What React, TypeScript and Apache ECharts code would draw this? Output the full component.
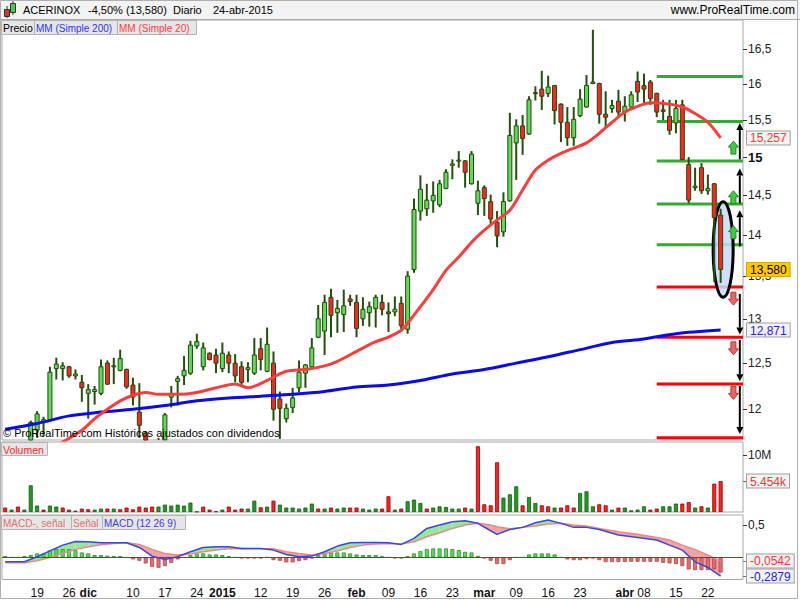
import React, { useEffect, useRef } from "react";
import * as echarts from "echarts";

// ---------- trading days ----------
const daysNov2014 = [12, 13, 14, 17, 18, 19, 20, 21, 24, 25, 26, 27, 28];
const daysDec2014 = [1, 2, 3, 4, 5, 8, 9, 10, 11, 12, 15, 16, 17, 18, 19, 22, 23, 24, 29, 30, 31];
const daysJan2015 = [2, 5, 6, 7, 8, 9, 12, 13, 14, 15, 16, 19, 20, 21, 22, 23, 26, 27, 28, 29, 30];
const daysFeb2015 = [2, 3, 4, 5, 6, 9, 10, 11, 12, 13, 16, 17, 18, 19, 20, 23, 24, 25, 26, 27];
const daysMar2015 = [2, 3, 4, 5, 6, 9, 10, 11, 12, 13, 16, 17, 18, 19, 20, 23, 24, 25, 26, 27, 30, 31];
const daysApr2015 = [1, 2, 7, 8, 9, 10, 13, 14, 15, 16, 17, 20, 21, 22, 23, 24];

const tickDates = ["2014-11-19", "2014-11-26", "2014-12-01", "2014-12-10", "2014-12-17", "2014-12-24", "2015-01-02", "2015-01-12", "2015-01-19", "2015-01-26", "2015-02-02", "2015-02-09", "2015-02-16", "2015-02-23", "2015-03-02", "2015-03-09", "2015-03-16", "2015-03-23", "2015-04-01", "2015-04-08", "2015-04-15", "2015-04-22"];
const tickTexts = ["19", "26", "dic", "10", "17", "24", "2015", "12", "19", "26", "feb", "09", "16", "23", "mar", "09", "16", "23", "abr", "08", "15", "22"];
const boldTicks = ["dic", "2015", "feb", "mar", "abr"];

// ---------- prices ----------
const opens = [11.55, 11.45, 11.52, 11.42, 11.50, 11.78, 11.86, 11.89, 12.44, 12.44, 12.46, 12.36, 12.29, 12.17, 12.19, 12.17, 12.50, 12.46, 12.42, 12.43, 12.26, 11.97, 11.75, 11.62, 11.55, 11.68, 12.13, 12.30, 12.36, 12.39, 12.69, 12.46, 12.61, 12.59, 12.44, 12.59, 12.50, 12.46, 12.43, 12.39, 12.66, 12.41, 12.50, 12.11, 11.90, 12.02, 12.23, 12.39, 12.46, 12.79, 12.86, 13.25, 13.07, 13.05, 13.23, 13.19, 13.00, 13.07, 13.12, 13.19, 13.08, 13.08, 13.18, 12.88, 13.58, 14.30, 14.33, 14.43, 14.38, 14.59, 14.89, 14.95, 14.95, 14.65, 14.40, 14.60, 14.42, 14.16, 14.04, 14.43, 15.19, 15.42, 15.31, 15.88, 15.93, 15.87, 15.98, 15.72, 15.47, 15.26, 15.56, 15.68, 16.01, 16.01, 15.58, 15.66, 15.76, 15.61, 15.68, 16.04, 15.98, 16.03, 15.87, 15.64, 15.55, 15.46, 15.71, 14.90, 14.60, 14.86, 14.56, 14.65, 14.25];
const closes = [11.45, 11.52, 11.42, 11.50, 11.86, 11.95, 11.89, 12.40, 12.49, 12.47, 12.36, 12.38, 12.23, 12.21, 12.21, 12.46, 12.27, 12.47, 12.55, 12.24, 12.13, 11.83, 11.58, 11.55, 11.66, 11.94, 12.17, 12.33, 12.42, 12.70, 12.74, 12.67, 12.54, 12.50, 12.61, 12.50, 12.36, 12.29, 12.45, 12.59, 12.54, 12.71, 12.00, 12.01, 12.01, 12.12, 12.40, 12.48, 12.67, 13.00, 13.19, 13.04, 13.12, 13.15, 13.20, 12.89, 13.11, 13.14, 13.25, 13.11, 13.06, 13.11, 12.92, 13.50, 14.32, 14.58, 14.44, 14.50, 14.65, 14.80, 14.91, 14.96, 14.80, 15.04, 14.56, 14.46, 14.20, 13.99, 14.42, 15.29, 15.42, 15.25, 15.78, 15.87, 15.83, 15.96, 15.63, 15.47, 15.26, 15.51, 15.79, 15.98, 16.03, 15.58, 15.54, 15.70, 15.61, 15.69, 15.85, 15.89, 15.93, 15.80, 15.61, 15.62, 15.36, 15.66, 14.97, 14.44, 14.62, 14.56, 14.59, 14.22, 13.58];
const lows = [11.40, 11.40, 11.38, 11.38, 11.48, 11.70, 11.72, 11.87, 12.32, 12.31, 12.34, 12.32, 12.08, 11.90, 12.05, 12.15, 12.26, 12.27, 12.41, 12.22, 12.04, 11.70, 11.50, 11.45, 11.50, 11.62, 12.02, 12.04, 12.26, 12.37, 12.66, 12.42, 12.53, 12.39, 12.40, 12.39, 12.29, 12.26, 12.29, 12.37, 12.42, 12.40, 11.88, 11.69, 11.86, 11.96, 12.18, 12.23, 12.44, 12.78, 12.59, 12.79, 12.84, 12.85, 13.15, 12.79, 12.92, 12.91, 12.90, 13.04, 12.85, 13.03, 12.85, 12.83, 13.54, 14.18, 14.24, 14.28, 14.35, 14.58, 14.71, 14.86, 14.60, 14.64, 14.25, 14.24, 14.12, 13.85, 13.98, 14.42, 14.70, 15.03, 15.30, 15.77, 15.64, 15.82, 15.44, 15.20, 15.15, 15.15, 15.54, 15.67, 16.00, 15.45, 15.40, 15.60, 15.54, 15.48, 15.66, 15.75, 15.73, 15.71, 15.54, 15.50, 15.30, 15.32, 14.96, 14.40, 14.56, 14.52, 14.51, 13.43, 13.42];
const highs = [11.60, 11.58, 11.58, 11.56, 11.88, 11.98, 11.92, 12.46, 12.56, 12.51, 12.47, 12.43, 12.37, 12.27, 12.25, 12.54, 12.53, 12.56, 12.65, 12.44, 12.34, 12.28, 11.77, 11.66, 11.70, 11.96, 12.25, 12.36, 12.58, 12.75, 12.83, 12.73, 12.62, 12.66, 12.73, 12.63, 12.60, 12.52, 12.51, 12.78, 12.78, 12.90, 12.63, 12.19, 12.06, 12.23, 12.53, 12.49, 12.78, 13.16, 13.28, 13.35, 13.22, 13.34, 13.28, 13.28, 13.25, 13.20, 13.28, 13.28, 13.19, 13.26, 13.26, 13.56, 14.46, 14.76, 14.65, 14.68, 14.70, 14.84, 14.97, 15.08, 14.96, 15.08, 14.69, 14.63, 14.51, 14.30, 14.54, 15.60, 15.51, 15.57, 15.83, 15.97, 16.19, 16.12, 15.99, 15.73, 15.68, 15.68, 15.93, 16.13, 16.79, 16.02, 15.90, 15.78, 15.92, 15.83, 15.90, 16.18, 16.15, 16.06, 15.88, 15.78, 15.78, 15.78, 15.78, 15.00, 14.86, 14.92, 14.77, 14.66, 14.33];

// moving averages read at sample days (index into trading days)
const ma20Idx = [8, 12, 14, 16, 18, 20, 22, 24, 27, 30, 33, 36, 38, 41, 44, 47, 50, 52, 55, 58, 60, 62, 63, 65, 67, 69, 71, 73, 75, 77, 79, 81, 83, 85, 87, 89, 91, 93, 95, 97, 99, 101, 104, 106, 108, 110, 112];
const ma20Val = [11.62, 11.78, 11.90, 12.00, 12.09, 12.15, 12.18, 12.16, 12.16, 12.18, 12.23, 12.27, 12.23, 12.31, 12.41, 12.43, 12.47, 12.52, 12.63, 12.74, 12.79, 12.87, 12.95, 13.14, 13.34, 13.57, 13.73, 13.91, 14.06, 14.19, 14.31, 14.57, 14.83, 14.96, 15.05, 15.12, 15.19, 15.32, 15.47, 15.61, 15.69, 15.74, 15.72, 15.68, 15.59, 15.47, 15.257];
const ma200Idx = [0, 5, 10, 15, 20, 25, 30, 35, 40, 45, 50, 55, 60, 65, 70, 75, 80, 85, 90, 95, 100, 105, 112];
const ma200Val = [11.79, 11.85, 11.93, 11.97, 12.00, 12.04, 12.09, 12.12, 12.14, 12.16, 12.19, 12.24, 12.26, 12.31, 12.38, 12.43, 12.50, 12.57, 12.65, 12.73, 12.77, 12.83, 12.871];

// price axis ticks and last values
const priceTicks = [12, 12.5, 13, 13.5, 14, 14.5, 15, 15.5, 16, 16.5];
const lastMa20 = 15.257;
const lastClose = 13.58;
const lastMa200 = 12.871;

// support / resistance annotations
const greenLevels = [16.11, 15.48, 14.95, 14.39, 13.88];
const redLevels = [13.37, 12.79, 12.27, 11.70];
const levelStartDate = "2015-04-10";
const upArrows = [[14.97, 15.46], [14.40, 14.85], [13.86, 14.31]];
const downArrows = [[13.29, 12.82], [12.76, 12.30], [12.25, 11.74]];
const blockUp = [15.12, 14.47, 14.03];
const blockDown = [13.24, 12.67, 12.18];
const ellipseSpan = ["2015-04-24", 14.42, 13.25];

// ---------- volume (millions) ----------
const volumeM = [0.78, 0.42, 0.95, 0.42, 4.7, 1.13, 0.42, 1.13, 0.95, 0.78, 0.42, 0.25, 0.60, 0.48, 0.42, 0.60, 0.60, 0.60, 0.48, 0.78, 0.48, 0.95, 0.78, 0.95, 0.95, 1.30, 1.13, 1.30, 1.13, 1.66, 0.07, 0.95, 0.42, 0.12, 0.42, 0.95, 0.42, 0.60, 0.60, 2.0, 0.83, 0.95, 2.0, 1.30, 0.78, 0.78, 0.60, 0.78, 1.48, 0.60, 0.60, 0.78, 0.60, 0.78, 0.78, 0.78, 0.60, 0.42, 0.60, 0.60, 2.77, 0.42, 0.60, 1.89, 2.19, 1.59, 0.60, 0.78, 1.0, 0.88, 0.60, 0.60, 0.78, 0.60, 11.6, 1.36, 1.18, 8.77, 2.54, 3.12, 4.53, 1.18, 2.65, 1.59, 1.18, 1.0, 0.78, 0.78, 1.18, 0.78, 3.35, 3.65, 1.0, 1.36, 1.18, 0.42, 0.78, 0.78, 0.30, 0.42, 1.0, 0.42, 0.60, 1.0, 1.0, 1.48, 1.48, 1.76, 0.78, 1.0, 0.78, 5.0, 5.454];
const volumeUp = [0, 1, 0, 1, 1, 1, 0, 1, 1, 0, 0, 1, 0, 0, 1, 1, 0, 1, 0, 0, 0, 0, 0, 0, 1, 1, 1, 1, 1, 1, 1, 0, 0, 0, 1, 0, 0, 0, 1, 1, 0, 1, 0, 1, 1, 1, 1, 1, 1, 0, 1, 0, 1, 1, 0, 0, 1, 1, 1, 0, 0, 1, 0, 1, 1, 1, 0, 1, 1, 1, 1, 1, 0, 1, 0, 0, 0, 0, 1, 1, 1, 0, 1, 1, 0, 0, 1, 0, 0, 0, 1, 1, 1, 0, 0, 1, 0, 1, 1, 1, 1, 0, 0, 1, 1, 1, 0, 0, 1, 0, 1, 0, 0];
const volumeTick = 10;
const lastVolume = 5.454;

// ---------- MACD ----------
const macdHist = [0.020, 0, 0, 0.020, 0.036, 0.062, 0.062, 0.108, 0.128, 0.128, 0.128, 0.113, 0.077, 0.062, 0.036, 0.036, 0.025, 0.020, 0.020, 0, -0.031, -0.052, -0.093, -0.145, -0.160, -0.134, -0.083, -0.031, 0, 0.036, 0.062, 0.062, 0.046, 0.046, 0.036, 0.020, 0, -0.016, -0.016, -0.016, -0.016, 0, -0.042, -0.052, -0.077, -0.077, -0.057, -0.042, -0.016, 0.036, 0.062, 0.072, 0.077, 0.077, 0.062, 0.046, 0.036, 0.036, 0.036, 0.020, 0, -0.016, -0.016, 0.020, 0.062, 0.098, 0.128, 0.139, 0.139, 0.139, 0.128, 0.113, 0.087, 0.077, 0.025, -0.016, -0.052, -0.103, -0.103, -0.042, 0, 0, 0.046, 0.062, 0.062, 0.062, 0.046, 0, -0.031, -0.042, -0.042, -0.026, -0.016, -0.042, -0.072, -0.072, -0.072, -0.072, -0.067, -0.067, -0.067, -0.067, -0.067, -0.083, -0.093, -0.103, -0.134, -0.186, -0.196, -0.196, -0.196, -0.186, -0.234];
const macdIdx = [0, 3, 5, 7, 9, 11, 13, 15, 17, 19, 21, 23, 25, 27, 29, 31, 33, 35, 37, 40, 42, 44, 46, 48, 50, 52, 54, 56, 58, 60, 62, 64, 66, 68, 70, 72, 74, 76, 77, 79, 81, 83, 85, 87, 89, 91, 93, 96, 99, 102, 104, 106, 108, 110, 112];
const macdVals = [-0.068, -0.068, 0.010, 0.100, 0.190, 0.247, 0.242, 0.226, 0.226, 0.226, 0.154, 0.020, -0.031, 0.010, 0.087, 0.154, 0.165, 0.165, 0.139, 0.139, 0.113, 0.046, 0.010, 0.020, 0.087, 0.175, 0.226, 0.232, 0.232, 0.226, 0.201, 0.294, 0.448, 0.500, 0.552, 0.567, 0.526, 0.412, 0.356, 0.430, 0.464, 0.536, 0.577, 0.526, 0.464, 0.464, 0.432, 0.345, 0.309, 0.268, 0.190, 0.113, -0.068, -0.155, -0.2879];
const sigVals = [-0.083, -0.083, -0.050, 0.000, 0.061, 0.124, 0.165, 0.196, 0.216, 0.226, 0.201, 0.124, 0.061, 0.036, 0.051, 0.087, 0.113, 0.134, 0.139, 0.134, 0.134, 0.087, 0.061, 0.036, 0.061, 0.098, 0.154, 0.190, 0.206, 0.216, 0.206, 0.242, 0.319, 0.381, 0.448, 0.500, 0.526, 0.500, 0.474, 0.443, 0.464, 0.485, 0.515, 0.526, 0.500, 0.485, 0.448, 0.397, 0.356, 0.309, 0.268, 0.190, 0.124, 0.036, -0.0542];
const macdTick = 0.5;
const lastSignal = -0.0542;
const lastMacd = -0.2879;

// ---------- layout constants ----------
const priceMin = 11.678;
const priceMax = 16.935;
const volMax = 12.35;
const macdMin = -0.341;
const macdMax = 0.655;
const FONT = "Liberation Sans, Arial, sans-serif";

const L = Math.log;
const pad2 = (n: number) => (n < 10 ? "0" + n : "" + n);
const monthDays: [string, number[]][] = [
  ["2014-11", daysNov2014], ["2014-12", daysDec2014], ["2015-01", daysJan2015],
  ["2015-02", daysFeb2015], ["2015-03", daysMar2015], ["2015-04", daysApr2015],
];
const dates = monthDays.flatMap(([m, ds]) => ds.map((d) => `${m}-${pad2(d)}`));
const categories = [...dates, "pad1", "pad2", "pad3"];

const comma = (v: number, digits: number) => v.toFixed(digits).replace(".", ",");

function buildOption(): any {
  const gridBase = { left: 2, width: 741, show: true, borderColor: "#a8a8a8", borderWidth: 1, outerBoundsMode: "none" };
  const grid0 = { ...gridBase, top: 20, height: 420 };
  const grid1 = { ...gridBase, top: 442, height: 70 };
  const grid2 = { ...gridBase, top: 515, height: 64.5 };

  const hiddenX = (gi: number) => ({
    type: "category", gridIndex: gi, data: categories, boundaryGap: true,
    axisLine: { show: false }, axisTick: { show: false }, axisLabel: { show: false }, splitLine: { show: false },
  });

  const boxRich = (color: string, bg = "#f2f2f2", border = "#a0a0a0") => ({
    color, backgroundColor: bg, borderColor: border, borderWidth: 1, padding: [1, 3, 0, 3], fontSize: 12, lineHeight: 11, fontFamily: FONT,
  });

  const priceTickLn = priceTicks.map(L);
  const arrowCol = categories.indexOf("pad3");
  const blockCol = categories.indexOf("pad2");
  const levelStart = categories.indexOf(levelStartDate);
  const ellIdx = categories.indexOf(ellipseSpan[0] as string);

  const fillData = macdIdx.slice(0, -1).map((x, k) => [x, macdVals[k], sigVals[k], macdIdx[k + 1], macdVals[k + 1], sigVals[k + 1]]);

  const levelSeries = (levels: number[], color: string) => ({
    type: "custom", xAxisIndex: 0, yAxisIndex: 0, z: 1, silent: true,
    data: levels.map((p) => [levelStart, L(p)]),
    renderItem: (params: any, api: any) => {
      const a = api.coord([api.value(0), api.value(1)]);
      const cs = params.coordSys;
      return { type: "line", shape: { x1: a[0], y1: a[1], x2: cs.x + cs.width, y2: a[1] }, style: { stroke: color, lineWidth: 3 } };
    },
  });

  const blockSeries = (vals: number[], up: boolean) => ({
    type: "custom", xAxisIndex: 0, yAxisIndex: 0, z: 6, silent: true,
    data: vals.map((p) => [blockCol, L(p)]),
    renderItem: (params: any, api: any) => {
      const c = api.coord([api.value(0), api.value(1)]);
      const s = up ? 1 : -1;
      const cx = c[0], cy = c[1];
      const pts = [
        [cx, cy - 7 * s], [cx + 5, cy - 1 * s], [cx + 2.5, cy - 1 * s], [cx + 2.5, cy + 6 * s],
        [cx - 2.5, cy + 6 * s], [cx - 2.5, cy - 1 * s], [cx - 5, cy - 1 * s],
      ];
      return {
        type: "polygon", shape: { points: pts },
        style: up ? { fill: "#3fcc3f", stroke: "#23862a", lineWidth: 1 } : { fill: "#e96565", stroke: "#b03a3a", lineWidth: 1 },
      };
    },
  });

  const candleData = opens.map((o, i) => [i, L(o), L(closes[i]), L(lows[i]), L(highs[i])]);

  return {
    animation: false,
    backgroundColor: "#ffffff",
    textStyle: { fontFamily: FONT },
    grid: [grid0, grid1, grid2],
    xAxis: [
      hiddenX(0),
      hiddenX(1),
      {
        type: "category", gridIndex: 2, data: categories, boundaryGap: true,
        axisLine: { show: false }, axisTick: { show: false }, splitLine: { show: false },
        axisLabel: {
          interval: (_i: number, v: string) => tickDates.includes(v),
          formatter: (v: string) => {
            const t = tickTexts[tickDates.indexOf(v)] ?? "";
            return boldTicks.includes(t) ? `{b|${t}}` : t;
          },
          margin: 7, fontSize: 12, color: "#111", fontFamily: FONT,
          rich: { b: { fontWeight: "bold", fontSize: 12, color: "#111", fontFamily: FONT } },
        },
      },
    ],
    yAxis: [
      {
        type: "value", gridIndex: 0, position: "right", min: L(priceMin), max: L(priceMax),
        axisLine: { show: false }, splitLine: { show: false },
        axisTick: { show: true, customValues: priceTickLn, length: 4, lineStyle: { color: "#333" } },
        axisLabel: {
          customValues: priceTickLn, margin: 5, fontSize: 12, lineHeight: 10, color: "#222", fontFamily: FONT,
          showMinLabel: true, showMaxLabel: true,
          formatter: (v: number) => {
            const p = Math.round(Math.exp(v) * 10) / 10;
            const s = Number.isInteger(p) ? String(p) : comma(p, 1);
            return Math.abs(p - 15) < 1e-6 ? `{b|${s}}` : s;
          },
          rich: { b: { fontWeight: "bold", fontSize: 13, lineHeight: 10, color: "#111", fontFamily: FONT } },
        },
      },
      {
        type: "value", gridIndex: 0, position: "right", min: L(priceMin), max: L(priceMax), z: 10,
        axisLine: { show: false }, splitLine: { show: false }, axisTick: { show: false },
        axisLabel: {
          customValues: [L(lastMa20), L(lastClose), L(lastMa200)], margin: 4,
          showMinLabel: true, showMaxLabel: true,
          formatter: (v: number) => {
            const p = Math.exp(v);
            if (Math.abs(p - lastMa20) < 0.01) return `{r|${comma(lastMa20, 3)}}`;
            if (Math.abs(p - lastClose) < 0.01) return `{y|${comma(lastClose, 3)}}`;
            return `{bl|${comma(lastMa200, 3)}}`;
          },
          rich: { r: boxRich("#ff3333"), y: boxRich("#000", "#ffc800", "#d9a800"), bl: boxRich("#2222ee") },
        },
      },
      {
        type: "value", gridIndex: 1, position: "right", min: 0, max: volMax,
        axisLine: { show: false }, splitLine: { show: false },
        axisTick: { show: true, customValues: [volumeTick], length: 4, lineStyle: { color: "#333" } },
        axisLabel: { customValues: [volumeTick], margin: 5, fontSize: 12, color: "#222", fontFamily: FONT, showMinLabel: true, showMaxLabel: true, formatter: () => `${volumeTick}M` },
      },
      {
        type: "value", gridIndex: 1, position: "right", min: 0, max: volMax, z: 10,
        axisLine: { show: false }, splitLine: { show: false },
        axisTick: { show: true, customValues: [lastVolume], length: 4, lineStyle: { color: "#ff3333" } },
        axisLabel: {
          customValues: [lastVolume], margin: 4, showMinLabel: true, showMaxLabel: true,
          formatter: () => `{r|${lastVolume.toFixed(3)}k}`,
          rich: { r: boxRich("#ff3333") },
        },
      },
      {
        type: "value", gridIndex: 2, position: "right", min: macdMin, max: macdMax,
        axisLine: { show: false }, splitLine: { show: false },
        axisTick: { show: true, customValues: [macdTick], length: 4, lineStyle: { color: "#333" } },
        axisLabel: { customValues: [macdTick], margin: 5, fontSize: 12, color: "#222", fontFamily: FONT, showMinLabel: true, showMaxLabel: true, formatter: () => comma(macdTick, 1) },
      },
      {
        type: "value", gridIndex: 2, position: "right", min: macdMin, max: macdMax, z: 10,
        axisLine: { show: false }, splitLine: { show: false },
        axisTick: { show: true, customValues: [lastSignal, lastMacd], length: 4, lineStyle: { color: "#777" } },
        axisLabel: {
          customValues: [lastSignal, lastMacd], margin: 4, showMinLabel: true, showMaxLabel: true, hideOverlap: false,
          formatter: (v: number) => (Math.abs(v - lastSignal) < 0.01 ? `{r|${comma(lastSignal, 4)}}` : `{bl|${comma(lastMacd, 4)}}`),
          rich: { r: boxRich("#ff3333"), bl: boxRich("#2222ee") },
        },
      },
    ],
    series: [
      levelSeries(greenLevels, "#35a935"),
      levelSeries(redLevels, "#ff0000"),
      {
        type: "custom", xAxisIndex: 0, yAxisIndex: 0, z: 2, silent: true,
        data: [[ellIdx, L(ellipseSpan[1] as number), L(ellipseSpan[2] as number)]],
        renderItem: (params: any, api: any) => {
          const a = api.coord([api.value(0), api.value(1)]);
          const b = api.coord([api.value(0), api.value(2)]);
          return {
            type: "ellipse",
            shape: { cx: a[0] + 2.5, cy: (a[1] + b[1]) / 2, rx: 10, ry: (b[1] - a[1]) / 2 },
            style: { fill: "rgba(200,218,250,0.85)", stroke: "#000", lineWidth: 3 },
          };
        },
      },
      {
        // OHLC candles (wick + body), clipped to the price panel
        type: "custom", name: "ACERINOX", xAxisIndex: 0, yAxisIndex: 0, z: 4, silent: true,
        data: candleData,
        encode: { x: 0, y: [1, 2, 3, 4] },
        renderItem: (params: any, api: any) => {
          const cs = params.coordSys;
          const top = cs.y, bot = cs.y + cs.height;
          const clampY = (y: number) => Math.min(bot, Math.max(top, y));
          const x = api.value(0);
          const o = api.value(1), c = api.value(2);
          const pO = api.coord([x, o]);
          const pC = api.coord([x, c]);
          const pL = api.coord([x, api.value(3)]);
          const pH = api.coord([x, api.value(4)]);
          const cx = pO[0];
          const children: any[] = [];
          const wy1 = clampY(pH[1]), wy2 = clampY(pL[1]);
          if (wy2 > wy1) {
            children.push({ type: "line", shape: { x1: cx, y1: wy1, x2: cx, y2: wy2 }, style: { stroke: "#244f0d", lineWidth: 2 } });
          }
          const by1 = clampY(Math.min(pO[1], pC[1]));
          const by2 = clampY(Math.max(pO[1], pC[1]));
          if (by2 > by1 || (by1 > top && by1 < bot)) {
            children.push({
              type: "rect",
              shape: { x: cx - 2, y: by1, width: 4, height: Math.max(1, by2 - by1) },
              style: { fill: c >= o ? "#5fdc55" : "#ff2424", stroke: "#1f4a0c", lineWidth: 1 },
            });
          }
          return { type: "group", children };
        },
      },
      {
        type: "line", xAxisIndex: 0, yAxisIndex: 0, z: 5, symbol: "none", smooth: 0.3, clip: true,
        data: ma200Idx.map((x, k) => [x, L(ma200Val[k])]),
        lineStyle: { color: "#0a0aee", width: 3 },
      },
      {
        type: "line", xAxisIndex: 0, yAxisIndex: 0, z: 5, symbol: "none", smooth: 0.3, clip: true,
        data: ma20Idx.map((x, k) => [x, L(ma20Val[k])]),
        lineStyle: { color: "#ff3b3b", width: 3 },
      },
      {
        type: "custom", xAxisIndex: 0, yAxisIndex: 0, z: 6, silent: true,
        data: [...upArrows, ...downArrows].map(([f, t]) => [arrowCol, L(f), L(t)]),
        renderItem: (params: any, api: any) => {
          const a = api.coord([api.value(0), api.value(1)]);
          const b = api.coord([api.value(0), api.value(2)]);
          const dir = b[1] < a[1] ? -1 : 1;
          const hl = 7, hw = 3.5;
          return {
            type: "group",
            children: [
              { type: "line", shape: { x1: a[0], y1: a[1], x2: b[0], y2: b[1] - dir * hl }, style: { stroke: "#000", lineWidth: 2 } },
              { type: "polygon", shape: { points: [[b[0], b[1]], [b[0] - hw, b[1] - dir * hl], [b[0] + hw, b[1] - dir * hl]] }, style: { fill: "#000" } },
            ],
          };
        },
      },
      blockSeries(blockUp, true),
      blockSeries(blockDown, false),
      {
        type: "bar", xAxisIndex: 1, yAxisIndex: 2, barWidth: 4,
        data: volumeM.map((v, i) => ({
          value: v,
          itemStyle: volumeUp[i] ? { color: "#1f9e1f", borderColor: "#125a12", borderWidth: 0.8 } : { color: "#ff2020", borderColor: "#9a0000", borderWidth: 0.8 },
        })),
      },
      {
        type: "custom", xAxisIndex: 2, yAxisIndex: 4, z: 1, silent: true,
        data: fillData,
        renderItem: (params: any, api: any) => {
          const x0 = api.value(0), m0 = api.value(1), s0 = api.value(2);
          const x1 = api.value(3), m1 = api.value(4), s1 = api.value(5);
          const M0 = api.coord([x0, m0]), S0 = api.coord([x0, s0]);
          const M1 = api.coord([x1, m1]), S1 = api.coord([x1, s1]);
          const d0 = m0 - s0, d1 = m1 - s1;
          const col = (d: number) => (d >= 0 ? "#98e698" : "#f0a3a3");
          if (d0 * d1 >= 0) {
            return { type: "polygon", shape: { points: [M0, M1, S1, S0] }, style: { fill: col(d0 + d1) } };
          }
          const t = d0 / (d0 - d1);
          const C = [M0[0] + (M1[0] - M0[0]) * t, M0[1] + (M1[1] - M0[1]) * t];
          return {
            type: "group",
            children: [
              { type: "polygon", shape: { points: [M0, C, S0] }, style: { fill: col(d0) } },
              { type: "polygon", shape: { points: [C, M1, S1] }, style: { fill: col(d1) } },
            ],
          };
        },
      },
      {
        type: "bar", xAxisIndex: 2, yAxisIndex: 4, barWidth: 4, z: 2,
        data: macdHist.map((v) => ({
          value: v,
          itemStyle: v >= 0 ? { color: "#5ad95a", borderColor: "#2f8f2f", borderWidth: 0.8 } : { color: "#e46c6c", borderColor: "#b04545", borderWidth: 0.8 },
        })),
        markLine: {
          silent: true, symbol: "none", label: { show: false },
          lineStyle: { color: "#3344dd", width: 1, type: "solid" },
          data: [{ yAxis: 0 }],
        },
      },
      {
        type: "line", xAxisIndex: 2, yAxisIndex: 4, z: 3, symbol: "none",
        data: macdIdx.map((x, k) => [x, sigVals[k]]),
        lineStyle: { color: "#e88a8a", width: 1.5 },
      },
      {
        type: "line", xAxisIndex: 2, yAxisIndex: 4, z: 3, symbol: "none",
        data: macdIdx.map((x, k) => [x, macdVals[k]]),
        lineStyle: { color: "#3a46dc", width: 1.5 },
      },
    ],
    graphic: [
      { type: "rect", shape: { x: 0, y: 0, width: 800, height: 20 }, style: { fill: "#f3f3f3" }, z: -1 },
      { type: "line", shape: { x1: 0, y1: 19.5, x2: 800, y2: 19.5 }, style: { stroke: "#a8a8a8", lineWidth: 1 } },
      { type: "rect", shape: { x: 0.5, y: 0.5, width: 797, height: 598 }, style: { fill: "none", stroke: "#b0b0b0", lineWidth: 1 } },
      // icon
      { type: "line", shape: { x1: 7, y1: 6, x2: 7, y2: 18 }, style: { stroke: "#333", lineWidth: 1 } },
      { type: "rect", shape: { x: 4.5, y: 9.5, width: 5, height: 7 }, style: { fill: "#e03030", stroke: "#333", lineWidth: 1 } },
      { type: "line", shape: { x1: 13, y1: 1, x2: 13, y2: 15 }, style: { stroke: "#333", lineWidth: 1 } },
      { type: "rect", shape: { x: 10.5, y: 3.5, width: 5, height: 9 }, style: { fill: "#40d040", stroke: "#333", lineWidth: 1 } },
      // title
      { type: "text", x: 23, y: 10, style: { text: "ACERINOX", fill: "#000", font: `11px ${FONT}`, verticalAlign: "middle" } },
      { type: "text", x: 88, y: 10, style: { text: "-4,50% (13,580)", fill: "#000", font: `11px ${FONT}`, verticalAlign: "middle" } },
      { type: "text", x: 173, y: 10, style: { text: "Diario", fill: "#000", font: `11px ${FONT}`, verticalAlign: "middle" } },
      { type: "text", x: 213, y: 10, style: { text: "24-abr-2015", fill: "#000", font: `11px ${FONT}`, verticalAlign: "middle" } },
      { type: "text", x: 795, y: 10, style: { text: "www.ProRealTime.com", fill: "#000", font: `12px ${FONT}`, align: "right", verticalAlign: "middle" } },
      // price tabs
      { type: "rect", shape: { x: 1.5, y: 20.5, width: 33, height: 14 }, style: { fill: "#e6e6e6", stroke: "#b4b4b4" } },
      { type: "text", x: 3, y: 28, style: { text: "Precio", fill: "#000", font: `10.5px ${FONT}`, verticalAlign: "middle" } },
      { type: "rect", shape: { x: 34.5, y: 20.5, width: 83, height: 14 }, style: { fill: "#e6e6e6", stroke: "#b4b4b4" } },
      { type: "text", x: 36, y: 28, style: { text: "MM (Simple 200)", fill: "#3333ff", font: `10px ${FONT}`, verticalAlign: "middle" } },
      { type: "rect", shape: { x: 117.5, y: 20.5, width: 79, height: 14 }, style: { fill: "#e6e6e6", stroke: "#b4b4b4" } },
      { type: "text", x: 119, y: 28, style: { text: "MM (Simple 20)", fill: "#ff4040", font: `10px ${FONT}`, verticalAlign: "middle" } },
      // volume tab
      { type: "rect", shape: { x: 1.5, y: 442.5, width: 46, height: 13 }, style: { fill: "#e6e6e6", stroke: "#b4b4b4" } },
      { type: "text", x: 3, y: 449.5, style: { text: "Volumen", fill: "#ff2a2a", font: `10.5px ${FONT}`, verticalAlign: "middle" } },
      // macd tabs
      { type: "rect", shape: { x: 1.5, y: 515.5, width: 70, height: 14 }, style: { fill: "#e6e6e6", stroke: "#b4b4b4" } },
      { type: "text", x: 3, y: 523, style: { text: "MACD-, señal", fill: "#e07070", font: `10px ${FONT}`, verticalAlign: "middle" } },
      { type: "rect", shape: { x: 71.5, y: 515.5, width: 31, height: 14 }, style: { fill: "#e6e6e6", stroke: "#b4b4b4" } },
      { type: "text", x: 73, y: 523, style: { text: "Señal", fill: "#e07070", font: `10px ${FONT}`, verticalAlign: "middle" } },
      { type: "rect", shape: { x: 102.5, y: 515.5, width: 83, height: 14 }, style: { fill: "#e6e6e6", stroke: "#b4b4b4" } },
      { type: "text", x: 104, y: 523, style: { text: "MACD (12 26 9)", fill: "#4040d0", font: `10px ${FONT}`, verticalAlign: "middle" } },
      // copyright
      { type: "text", x: 3, y: 433, z: 100, style: { text: "© ProRealTime.com Históricos ajustados con dividendos", fill: "#000", font: `11px ${FONT}`, verticalAlign: "middle" } },
    ],
  };
}

export default function App() {
  const ref = useRef<HTMLDivElement>(null);
  useEffect(() => {
    document.body.style.margin = "0";
    const chart = echarts.init(ref.current as HTMLDivElement, null, { renderer: "svg" });
    chart.setOption(buildOption());
    return () => chart.dispose();
  }, []);
  return <div ref={ref} style={{ width: 800, height: 600 }} />;
}
